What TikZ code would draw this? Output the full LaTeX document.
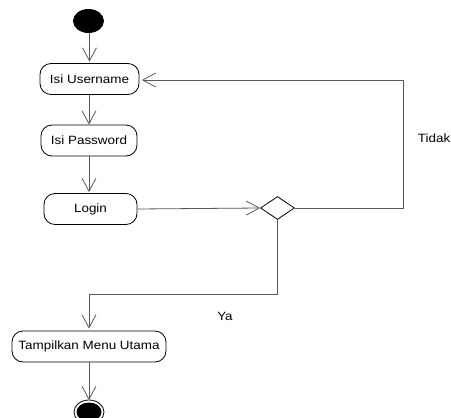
\documentclass[tikz,border=0pt]{standalone}
\usepackage{fontspec}
\setmainfont{Liberation Sans}
\usetikzlibrary{arrows.meta,shapes.geometric}
\newcommand{\wtxt}[1]{\scalebox{1.12}[1]{#1}}
\tikzset{
  act/.style={draw=black, line width=0.8pt, rounded corners=11pt,
    minimum height=31pt, inner sep=0pt, font=\fontsize{12}{14}\selectfont},
  flow/.style={draw=black!65, line width=0.8pt,
    -{Straight Barb[length=13pt,width=14pt,line width=0.8pt]}},
  plain/.style={draw=black!65, line width=0.8pt},
  lbl/.style={font=\fontsize{12}{14}\selectfont, inner sep=0pt},
  decision/.style={diamond, draw=black, line width=0.8pt, inner sep=0pt,
    minimum width=34pt, minimum height=23pt}
}
\begin{document}
\begin{tikzpicture}[x=1pt,y=-1pt]
  \useasboundingbox (0,0) rectangle (451,418);

  % start and end
  \node (start) [ellipse, fill=black, minimum width=31pt, minimum height=24pt, inner sep=0pt] at (88.5,21) {};
  \node (finish) [ellipse, draw=black, line width=0.8pt, minimum width=30pt, minimum height=24pt, inner sep=0pt] at (89,412) {};
  \fill[black] (finish.center) ellipse [x radius=12.5pt, y radius=9.5pt];

  % actions
  \node (user) [act, minimum width=99pt] at (89.5,79) {\wtxt{Isi Username}};
  \node (pass) [act, minimum width=96pt] at (89,140.5) {\wtxt{Isi Password}};
  \node (login) [act, minimum width=93pt] at (90.5,209) {\wtxt{Login}};
  \node (menu) [act, minimum width=154pt] at (89,346.5) {\wtxt{Tampilkan Menu Utama}};

  % decision
  \node (dec) [decision] at (277.5,208) {};

  % route points
  \coordinate (loopcorner) at (403,80);
  \coordinate (yesbend) at (277.5,294);

  % labels
  \node (tidak) [lbl, anchor=east] at (450.5,138) {\wtxt{Tidak}};
  \node (ya) [lbl] at (225,316) {\wtxt{Ya}};

  % flow
  \draw[flow, shorten >=1.5pt] (start.south -| user.north) -- (user.north);
  \draw[flow] (user.south -| pass.north) -- (pass.north);
  \draw[flow, shorten >=1pt] (pass.south) -- (pass.south |- login.north);
  \draw[flow] (login.east) -- (dec.west);
  \draw[plain] (dec.east) -| (loopcorner);
  \draw[flow, shorten >=2.5pt] (loopcorner) -- (user.east |- loopcorner);
  \draw[plain] (dec.south) -- (yesbend);
  \draw[flow, shorten >=2pt] (yesbend) -| (menu.north);
  \draw[flow, shorten >=-0.5pt] (menu.south) -- (finish.north);
\end{tikzpicture}
\end{document}
